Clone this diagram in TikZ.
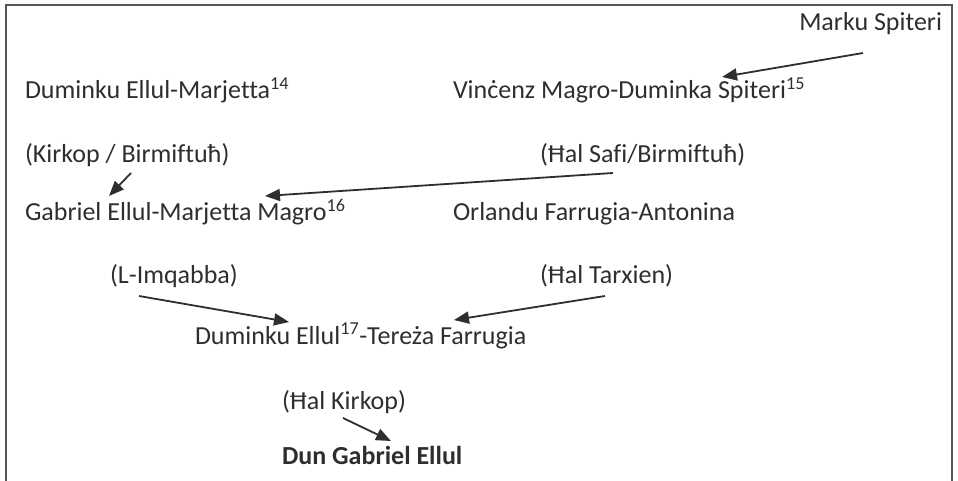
\documentclass[tikz,border=0pt]{standalone}
\usepackage{fontspec}
\setmainfont{Carlito}[Ligatures={NoCommon}]
\usetikzlibrary{arrows.meta,calc}
\definecolor{ink}{HTML}{2E2E2E}
\definecolor{framec}{HTML}{555555}
\tikzset{
  lbl/.style={inner sep=0pt, outer sep=0pt, anchor=base west, text=ink, font=\fontsize{26}{30}\selectfont},
  arr/.style={draw=ink, line width=1.8pt, -{Triangle[length=15pt,width=12pt]}},
  framel/.style={draw=framec, line width=1.6pt}
}
\begin{document}
\begin{tikzpicture}[x=1pt,y=-1pt]
\useasboundingbox (0,0) rectangle (958,481);
\draw[framel] (6,485) -- (6,5) -- (952,5) -- (952,485);

\node[lbl, anchor=base east] (marku) at (942,31) {Marku Spiteri};
\node[lbl] (dum1) at (25,99) {Duminku Ellul-Marjetta\textsuperscript{14}};
\node[lbl] (vin) at (453,99) {Vinċenz Magro-Duminka Spiteri\textsuperscript{15}};
\node[lbl] (kirk) at (25,163) {(Kirkop / Birmiftuħ)};
\node[lbl] (safi) at (540,163) {(Ħal Safi/Birmiftuħ)};
\node[lbl] (gab) at (25,221) {Gabriel Ellul-Marjetta Magro\textsuperscript{16}};
\node[lbl] (orl) at (453,221) {Orlandu Farrugia-Antonina};
\node[lbl] (imq) at (110,283) {(L-Imqabba)};
\node[lbl] (tarx) at (540,283) {(Ħal Tarxien)};
\node[lbl] (dum2) at (195,344) {Duminku Ellul\textsuperscript{17}-Tereża Farrugia};
\node[lbl] (hk) at (282,409) {(Ħal Kirkop)};
\node[lbl, font=\fontsize{26}{30}\selectfont\bfseries] (dun) at (282,464) {Dun Gabriel Ellul};

\draw[arr] ($(marku.base east)+(-79,22)$) -- ($(vin.base west)+(269,-22)$);
\draw[arr] ($(kirk.base west)+(106,10)$) -- ($(gab.base west)+(84,-25)$);
\draw[arr] ($(safi.base west)+(73,10)$) -- ($(gab.base west)+(240,-25)$);
\draw[arr] ($(imq.base west)+(29,13)$) -- ($(dum2.base west)+(94,-22)$);
\draw[arr] ($(tarx.base west)+(65,13)$) -- ($(dum2.base west)+(259,-24)$);
\draw[arr] ($(hk.base west)+(61,9)$) -- ($(dun.base west)+(109,-23)$);
\end{tikzpicture}
\end{document}
